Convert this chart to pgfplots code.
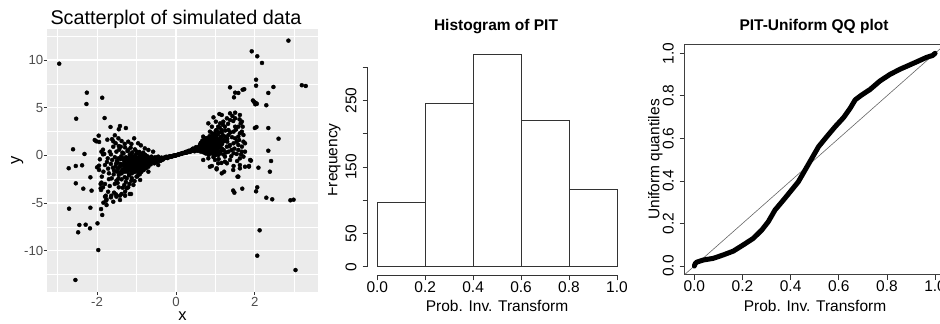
\documentclass[border=0pt]{standalone}
\usepackage{pgfplots}
\pgfplotsset{compat=1.18}
\usepackage{fontspec}
\setmainfont{Liberation Sans}
\definecolor{ggbg}{HTML}{EBEBEB}
\definecolor{gg30}{HTML}{4D4D4D}
\definecolor{gg20}{HTML}{333333}
\begin{document}
\begin{tikzpicture}
\useasboundingbox (0pt,0pt) rectangle (940pt,324pt);
\clip (0pt,0pt) rectangle (940pt,324pt);
% ---------------- left: ggplot scatter ----------------
\begin{axis}[
  at={(47pt,32.3pt)}, anchor=south west,
  scale only axis, width=271pt, height=262.7pt,
  xmin=-3.27, xmax=3.60, ymin=-14.31, ymax=13.25,
  axis background/.style={fill=ggbg},
  axis line style={draw=none},
  xtick={-2,0,2}, xticklabels={-2,0,2},
  ytick={-10,-5,0,5,10}, yticklabels={-10,-5,0,5,10},
  minor xtick={-3,-1,1,3},
  minor ytick={-12.5,-7.5,-2.5,2.5,7.5,12.5},
  grid=both,
  major grid style={white, line width=1.1pt},
  minor grid style={white, line width=0.55pt},
  xtick pos=bottom, ytick pos=left,
  tick align=outside,
  major tick length=3.3pt, minor tick length=0pt,
  tick style={gg20, line width=0.9pt},
  tick label style={font=\fontsize{13.2}{15}\selectfont, text=gg30, inner sep=0pt},
  xticklabel style={anchor=north}, xticklabel shift=1.7pt,
  yticklabel style={anchor=east}, yticklabel shift=0.2pt,
]
\addplot[only marks, mark=*, mark size=2pt, mark options={draw=black, fill=black}] table {
x y
-2.96 9.61
-2.26 6.57
-2.27 5.38
-1.87 6.04
-2.53 3.84
-1.81 3.91
-1.66 2.97
-1.45 2.73
-1.27 2.86
-1.96 2.06
-1.74 1.64
-1.55 2.10
-2.02 1.47
-1.95 1.40
-2.61 0.63
-2.32 0.14
-1.85 0.59
-1.59 1.47
-2.72 -1.36
-2.54 -1.12
-2.38 -1.05
-2.17 -2.31
-2.54 -2.94
-2.35 -3.50
-2.14 -3.71
-2.71 -5.60
-2.17 -5.50
-2.45 -7.31
-2.29 -7.28
-2.18 -7.66
-2.48 -8.08
-1.99 -7.14
-1.97 -9.94
-2.55 -13.08
-1.87 -6.26
-1.90 -5.64
-1.84 -4.97
-1.76 -4.62
-1.91 -3.01
-1.91 -3.46
-1.78 -4.24
-1.64 -4.24
-1.52 -4.10
-1.42 -4.24
-1.29 -4.24
-1.29 -3.82
-1.14 -4.06
-1.25 -3.46
-1.89 0.38
-1.85 0.10
-1.95 -1.09
-2.00 -1.26
-1.95 -1.54
-1.88 -2.24
-1.89 -2.87
-1.85 -3.36
-1.90 -3.64
-1.80 -4.34
-1.77 -4.76
-2.06 1.60
-1.42 3.07
-1.46 1.78
-1.38 1.50
-1.06 1.78
-1.21 1.43
-1.13 1.19
-0.96 1.26
-0.89 1.04
-1.53 1.26
-1.59 0.90
-1.45 0.97
-1.29 0.83
-1.82 0.14
-1.68 0.38
-1.51 0.38
-1.36 0.28
-1.21 0.56
-1.04 0.62
-0.79 0.73
-0.70 0.56
-0.58 0.38
-1.13 0.03
-0.96 0.21
-0.83 0.28
-1.93 -0.42
-1.73 -0.32
-1.62 -0.49
-1.46 -0.32
-1.31 -0.49
-1.21 -0.25
-1.00 -0.32
-0.87 -0.14
-0.74 -0.07
-0.62 -0.14
-0.53 -0.21
-0.45 -0.14
-0.36 -0.49
-1.80 -1.02
-1.65 -0.91
-1.53 -1.19
-1.40 -0.91
-1.25 -1.12
-1.13 -0.84
-1.02 -1.02
-0.91 -0.77
-0.79 -0.91
-0.66 -0.67
-0.55 -0.84
-0.45 -1.02
-1.84 -1.72
-1.70 -1.89
-1.57 -1.61
-1.45 -2.07
-1.31 -1.72
-1.19 -1.96
-1.06 -1.61
-0.96 -1.82
-0.83 -1.54
-0.70 -1.72
-1.63 -2.42
-1.51 -2.66
-1.38 -2.52
-1.25 -2.42
-1.13 -2.66
-1.00 -2.24
-0.91 -2.59
-1.80 -3.01
-1.68 -3.22
-1.55 -3.01
-1.45 -3.36
-1.31 -3.11
-1.21 -3.36
-1.08 -3.11
-1.72 -3.82
-1.57 -3.92
-1.51 -4.34
-1.38 -4.06
-1.17 -4.06
-1.65 -4.41
-1.59 -4.87
-1.42 -4.69
-1.76 -5.22
-0.62 -0.45
-0.65 -0.62
-0.68 -0.38
-0.70 -0.80
-0.72 -0.55
-0.74 -1.05
-0.75 -0.30
-0.77 -0.70
-0.78 -0.95
-0.80 -0.50
-0.81 -1.25
-0.83 -0.85
-0.84 -0.20
-0.85 -0.62
-0.86 -1.40
-0.88 -1.00
-0.89 -0.40
-0.90 -0.75
-0.91 -1.15
-0.92 -0.10
-0.93 -1.60
-0.94 -0.55
-0.95 -0.90
-0.96 -1.30
-0.97 -0.30
-0.98 -0.70
-0.99 -1.05
-1.00 -1.50
-1.01 -0.45
-1.02 0.05
-1.03 -0.85
-1.04 -1.20
-1.05 -1.75
-1.06 -0.60
-1.07 -0.20
-1.08 -1.00
-1.09 -1.40
-1.10 -0.80
-1.11 0.30
-1.12 -1.90
-1.13 -0.35
-1.14 -1.10
-1.15 -0.65
-1.16 -1.55
-1.17 0.10
-1.18 -0.95
-1.19 -2.10
-1.20 -0.50
-1.22 -1.30
-1.23 0.45
-1.24 -0.85
-1.26 -1.70
-1.27 -0.20
-1.28 -1.05
-1.30 -2.30
-1.31 -0.60
-1.33 0.20
-1.34 -1.45
-1.36 -0.95
-1.38 -1.90
-1.40 -0.40
-1.42 -1.20
-1.44 0.60
-1.46 -2.45
-1.48 -0.75
-0.60 -0.55
-0.63 -0.72
-0.66 -0.50
-0.69 -0.62
-0.71 -0.42
-0.73 -0.88
-0.76 -0.58
-0.79 -1.10
-0.82 -0.65
-0.87 -0.85
-0.90 -0.55
-0.94 -1.10
-0.97 -0.80
-1.00 -0.95
-1.03 -0.60
-0.58 -0.60
-0.57 -0.40
-0.55 -0.52
-0.64 -0.95
-0.70 -1.20
-0.76 -1.35
-0.82 -1.55
-0.88 -1.75
-0.92 -2.00
-0.98 -2.20
-0.66 -0.25
-0.72 -0.15
-0.78 0.05
-0.86 0.15
-0.93 0.35
-1.00 0.40
-0.61 -0.30
-0.64 -0.48
-0.67 -0.78
-0.69 -0.35
-0.71 -0.68
-0.73 -0.25
-0.74 -0.72
-0.76 -0.90
-0.77 -0.45
-0.79 -0.75
-0.80 -0.30
-0.81 -0.58
-0.82 -1.00
-0.84 -0.45
-0.85 -1.20
-0.86 -0.75
-0.87 -0.30
-0.88 -1.30
-0.89 -0.65
-0.90 -0.95
-0.91 -0.45
-0.92 -1.35
-0.93 -0.70
-0.94 -0.25
-0.95 -1.20
-0.96 -0.60
-0.97 -1.00
-0.98 -0.45
-0.99 -1.45
-1.00 -0.75
-1.01 -1.15
-1.02 -0.35
-1.03 -1.40
-1.04 -0.80
-1.05 -0.10
-1.06 -1.25
-1.07 -0.55
-1.08 -1.60
-1.09 -0.90
-1.10 -0.30
-1.11 -1.30
-1.12 -0.70
-1.14 -1.50
-1.15 -0.20
-1.16 -0.95
-1.18 -1.25
-1.19 -0.60
-1.21 -0.90
-1.23 -1.60
-1.25 -0.40
-1.27 -1.35
-1.29 -0.80
-1.32 -1.10
-1.35 -0.30
-1.37 -1.60
-1.39 -0.10
-1.41 -1.00
-1.43 -1.80
-1.47 -1.40
-1.50 -0.60
-1.50 -1.70
-1.55 -0.20
-1.60 -1.30
-1.65 0.10
-1.70 -2.50
-1.58 -2.00
-1.48 -2.90
-1.35 -3.40
-1.27 -2.80
-1.18 -3.00
-1.12 -2.40
-1.05 -2.70
-1.40 0.90
-1.30 1.20
-1.15 0.80
-1.52 -0.90
-1.62 1.70
-1.75 -0.70
-1.72 -1.40
-0.54 -0.60
-0.52 -0.40
-0.50 -0.52
-0.48 -0.36
-0.46 -0.48
-0.44 -0.34
-0.42 -0.45
-0.40 -0.31
-0.38 -0.40
-0.36 -0.29
-0.34 -0.36
-0.32 -0.26
-0.30 -0.32
-0.28 -0.23
-0.26 -0.27
-0.24 -0.19
-0.22 -0.23
-0.20 -0.16
-0.18 -0.18
-0.16 -0.13
-0.14 -0.14
-0.12 -0.10
-0.10 -0.10
-0.08 -0.07
-0.06 -0.06
-0.04 -0.03
-0.02 -0.02
-0.45 -0.28
-0.43 -0.56
-0.37 -0.24
-0.33 -0.44
-0.25 -0.15
-0.21 -0.29
-0.15 -0.09
-0.11 -0.15
-0.07 -0.04
-0.03 -0.05
-0.51 -0.30
-0.49 -0.68
-0.41 -0.52
-0.53 -0.75
-0.47 -0.22
-0.39 -0.58
0.00 0.00
0.02 0.03
0.04 0.05
0.06 0.08
0.08 0.10
0.10 0.13
0.12 0.15
0.14 0.18
0.16 0.20
0.18 0.23
0.20 0.24
0.22 0.28
0.24 0.31
0.26 0.32
0.28 0.36
0.30 0.37
0.32 0.42
0.34 0.41
0.36 0.47
0.38 0.46
0.40 0.52
0.42 0.50
0.44 0.58
0.46 0.55
0.48 0.63
0.50 0.60
0.52 0.68
0.54 0.64
0.01 0.02
0.05 0.05
0.09 0.12
0.13 0.15
0.17 0.24
0.21 0.24
0.25 0.36
0.29 0.33
0.33 0.48
0.37 0.40
0.41 0.62
0.45 0.48
0.49 0.76
0.53 0.52
0.43 0.70
0.47 0.42
0.51 0.86
0.55 0.48
0.39 0.56
0.35 0.36
0.31 0.45
0.27 0.28
0.56 0.75
0.58 0.55
0.60 0.90
0.61 0.62
0.62 1.05
0.63 0.45
0.64 0.80
0.65 1.20
0.66 0.60
0.67 0.95
0.68 0.35
0.69 1.40
0.70 0.75
0.71 1.10
0.72 0.50
0.73 1.60
0.74 0.90
0.75 0.20
0.76 1.25
0.77 0.65
0.78 1.80
0.79 1.00
0.80 0.40
0.81 1.45
0.82 0.80
0.83 0.05
0.84 1.15
0.85 2.00
0.86 0.60
0.87 1.35
0.88 0.95
0.89 1.70
0.90 0.30
0.91 1.10
0.92 2.30
0.93 0.70
0.94 1.50
0.95 -0.20
0.96 1.25
0.97 0.85
0.98 1.95
0.99 0.50
1.00 1.40
1.01 2.60
1.02 1.00
1.03 0.20
1.04 1.75
1.05 0.75
1.06 2.20
1.07 1.20
1.08 -0.40
1.09 1.55
1.10 0.90
1.11 2.90
1.12 0.45
1.13 1.85
1.14 1.15
1.15 -0.80
1.16 2.40
1.17 0.65
1.18 1.50
1.19 3.20
1.20 0.10
0.57 0.65
0.59 0.80
0.62 0.72
0.64 0.95
0.66 0.85
0.68 1.10
0.70 0.95
0.72 0.80
0.74 1.15
0.76 1.00
0.78 0.85
0.80 1.20
0.82 1.05
0.84 0.70
0.86 1.00
0.88 1.25
0.60 0.50
0.63 1.30
0.67 1.55
0.71 0.30
0.75 1.75
0.79 0.55
0.83 1.60
0.87 0.25
0.91 0.85
0.95 1.05
0.99 1.20
1.03 0.95
0.56 0.55
0.58 0.90
0.60 0.70
0.61 1.15
0.62 0.40
0.63 0.85
0.64 0.60
0.65 1.00
0.66 1.35
0.67 0.70
0.68 0.50
0.69 0.90
0.70 1.25
0.71 0.60
0.72 1.45
0.73 0.80
0.74 0.40
0.75 1.05
0.76 1.55
0.77 0.85
0.78 0.20
0.79 1.30
0.80 0.70
0.81 1.00
0.82 1.70
0.83 0.45
0.84 1.30
0.85 0.85
0.86 1.55
0.87 0.60
0.88 1.90
0.89 1.10
0.90 0.60
0.91 1.40
0.92 0.95
0.93 1.80
0.94 0.25
0.95 1.30
0.96 0.75
0.97 2.10
0.98 1.00
0.99 0.00
1.00 1.65
1.01 0.80
1.02 2.00
1.03 1.25
1.05 0.45
1.06 1.50
1.08 0.90
1.09 2.40
1.11 1.30
1.12 0.20
1.14 1.95
1.15 0.75
1.17 1.20
1.19 2.10
1.21 0.55
1.23 1.50
1.25 2.60
1.27 0.30
1.30 1.75
1.32 3.30
1.35 0.95
1.38 2.40
1.40 -0.10
1.42 1.90
1.45 3.60
1.48 0.70
1.52 2.70
1.55 -0.60
1.60 1.60
1.65 0.10
1.10 4.33
1.16 4.23
1.37 4.40
1.50 4.47
1.43 4.12
1.29 3.88
1.20 3.53
1.12 3.35
1.07 3.00
1.03 2.65
0.91 3.00
0.86 2.48
0.99 2.31
1.16 2.65
1.24 3.00
1.37 3.70
1.50 3.88
1.61 3.77
1.64 3.35
1.58 3.00
1.69 3.00
1.67 2.48
1.62 2.31
1.46 2.48
1.33 2.13
1.24 1.96
1.20 1.61
1.50 1.78
1.54 1.43
1.71 1.43
1.75 1.26
1.67 0.91
1.58 1.08
1.46 1.26
1.37 1.08
1.58 0.56
1.67 0.38
1.75 0.38
1.71 -0.14
1.62 -0.32
1.54 0.14
1.46 0.21
1.33 0.38
1.24 -0.14
1.16 0.56
1.07 0.03
0.99 -0.49
1.07 -0.84
1.24 -0.67
1.37 -0.49
1.46 -1.12
1.62 -1.37
1.88 -0.49
1.85 -1.12
0.91 -1.12
1.03 -1.47
1.22 -1.72
1.58 -2.24
0.69 -0.49
0.82 -0.32
0.95 0.03
0.86 1.78
0.78 1.43
0.69 1.96
0.93 2.13
1.03 1.61
1.12 1.08
0.91 0.73
1.29 0.91
1.41 0.56
1.30 1.43
1.58 1.96
1.71 2.13
1.33 2.65
1.50 3.00
1.62 4.23
1.67 3.53
0.95 3.98
1.01 3.53
0.82 3.35
1.29 -0.84
1.45 -1.54
1.62 -1.02
1.03 -1.36
0.86 -1.20
1.16 -1.89
1.56 -2.24
1.75 -1.20
2.85 12.03
1.92 10.91
2.06 10.39
2.18 9.69
2.03 7.93
2.03 7.30
2.47 7.17
2.34 6.54
3.19 7.35
3.29 7.27
1.58 6.54
1.69 6.88
1.73 6.93
1.37 7.13
1.50 6.57
1.47 6.08
1.95 5.75
1.98 5.60
2.02 5.50
2.05 5.40
2.01 5.35
2.29 5.25
2.00 2.86
2.04 2.97
2.34 2.86
2.60 1.74
2.34 0.48
2.41 -0.60
1.90 -0.56
1.85 -1.19
2.09 -1.30
2.38 -1.72
1.68 -3.50
2.06 -3.36
2.03 -3.78
2.29 -4.45
2.44 -4.62
2.90 -4.72
2.98 -4.66
2.12 -7.87
2.06 -10.53
3.03 -12.04
1.45 -3.70
1.48 -3.92
};
\end{axis}
\node[anchor=base west, font=\fontsize{19.8}{22}\selectfont] at (47pt,299pt) {Scatterplot of simulated data};
\node[anchor=base, font=\fontsize{16.5}{18}\selectfont] at (182.5pt,3.3pt) {x};
\node[rotate=90, anchor=base, font=\fontsize{16.5}{18}\selectfont] at (19.8pt,163.6pt) {y};
% ---------------- middle: histogram ----------------
\begin{axis}[
  at={(367.7pt,48.7pt)}, anchor=south west, scale only axis,
  width=258.8pt, height=229.9pt,
  xmin=-0.04, xmax=1.04, ymin=-12.8, ymax=332.8,
  axis lines*=left, axis line style={draw=none},
  xtick={0,0.2,0.4,0.6,0.8,1}, xticklabels={0.0,0.2,0.4,0.6,0.8,1.0},
  ytick={0,50,100,150,200,250,300}, yticklabels={0,50,,150,,250,},
  tick align=outside, major tick length=5pt,
  tick style={black!80, line width=0.75pt},
  tick label style={font=\fontsize{15.5}{18}\selectfont, inner sep=0pt},
  xticklabel style={anchor=north}, xticklabel shift=1.1pt,
  yticklabel style={rotate=90, anchor=south}, yticklabel shift=6pt,
  clip=false,
]
\addplot[ybar interval, fill=white, draw=black!80, line width=0.75pt] coordinates {(0,97) (0.2,246) (0.4,320) (0.6,220) (0.8,117) (1.0,117)};
\draw[black!80, line width=0.75pt] (axis cs:0,-12.8) -- (axis cs:1,-12.8);
\draw[black!80, line width=0.75pt] (axis cs:-0.04,0) -- (axis cs:-0.04,300);
\end{axis}
\node[anchor=base, font=\bfseries\fontsize{15.5}{18}\selectfont] at (496pt,293pt) {Histogram of PIT};
\node[anchor=base, font=\fontsize{15.5}{18}\selectfont] at (497pt,12.3pt) {Prob. Inv. Transform};
\begin{scope}
\clip (328pt,0pt) rectangle (640pt,324pt);
\node[rotate=90, anchor=base, font=\fontsize{15.5}{18}\selectfont] at (337.3pt,164pt) {Frequency};
\end{scope}
% ---------------- right: QQ plot ----------------
\begin{axis}[
  at={(684.7pt,49.5pt)}, anchor=south west, scale only axis,
  width=260pt, height=229.7pt,
  xmin=-0.04, xmax=1.04, ymin=-0.04, ymax=1.04,
  axis line style={black!75, line width=0.75pt},
  xtick={0,0.2,0.4,0.6,0.8,1}, xticklabels={0.0,0.2,0.4,0.6,0.8,1.0},
  ytick={0,0.2,0.4,0.6,0.8,1}, yticklabels={0.0,0.2,0.4,0.6,0.8,1.0},
  xtick pos=bottom, ytick pos=left,
  tick align=outside, major tick length=5pt,
  tick style={black!80, line width=0.75pt},
  tick label style={font=\fontsize{15.5}{18}\selectfont, inner sep=0pt},
  xticklabel style={anchor=north}, xticklabel shift=1.3pt,
  yticklabel style={rotate=90, anchor=south}, yticklabel shift=5.7pt,
]
\addplot[black!60, line width=0.6pt] coordinates {(-0.04,-0.04) (1.04,1.04)};
\addplot[black, line width=5pt, line join=round, line cap=round] coordinates {
(0.000,0.000) (0.004,0.012) (0.010,0.018) (0.037,0.028) (0.079,0.036)
(0.120,0.052) (0.162,0.070) (0.203,0.099) (0.245,0.130) (0.280,0.169)
(0.307,0.208) (0.335,0.263) (0.370,0.310) (0.404,0.357) (0.432,0.396)
(0.460,0.451) (0.488,0.506) (0.516,0.561) (0.550,0.608) (0.585,0.655)
(0.620,0.698) (0.647,0.741) (0.668,0.781) (0.695,0.804) (0.730,0.830)
(0.771,0.870) (0.813,0.901) (0.854,0.925) (0.910,0.953) (0.965,0.981)
(0.990,0.990) (1.000,1.000)};
\end{axis}
\node[anchor=base, font=\bfseries\fontsize{15.5}{18}\selectfont] at (814pt,293pt) {PIT-Uniform QQ plot};
\node[anchor=base, font=\fontsize{15.5}{18}\selectfont] at (815pt,12.3pt) {Prob. Inv. Transform};
\begin{scope}
\clip (648.5pt,0pt) rectangle (940pt,324pt);
\node[rotate=90, anchor=base, font=\fontsize{15.5}{18}\selectfont] at (659.3pt,164.5pt) {Uniform quantiles};
\end{scope}
\end{tikzpicture}
\end{document}
